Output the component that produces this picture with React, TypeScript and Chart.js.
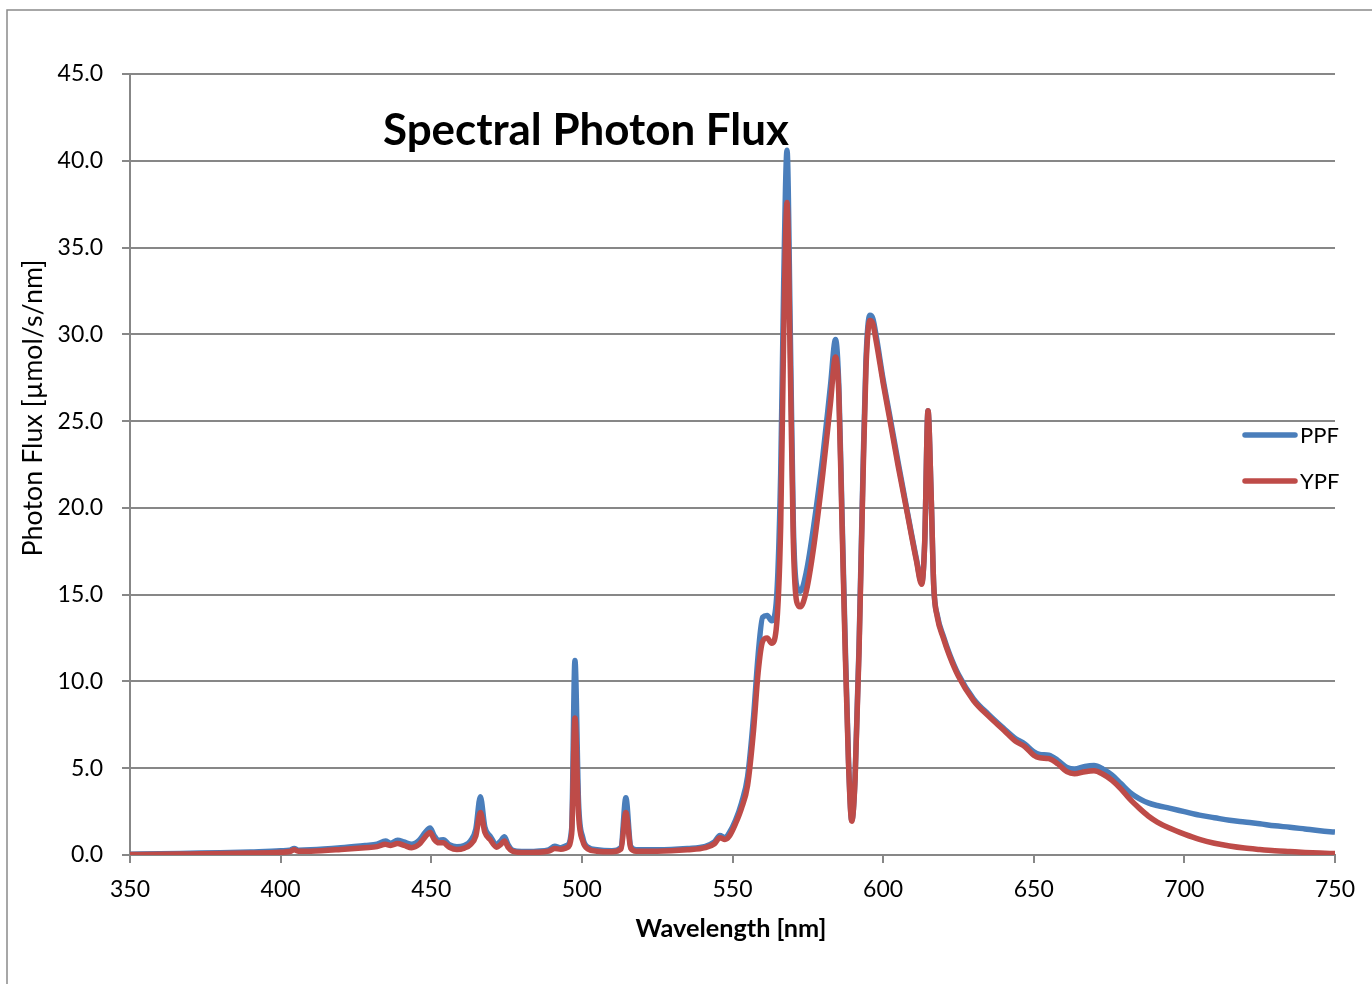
import { useEffect, useRef } from "react";
import { Chart, registerables } from "chart.js";

Chart.register(...registerables);

// Wavelength [nm]
const wavelengths = [
  350, 360, 370, 380, 390, 400, 403, 404.5, 406, 410, 420, 428, 432, 434.8, 436.5, 438.8, 441, 443.5, 446, 448,
  449.6, 451, 452.5, 454, 456, 458.5, 461, 463, 464.8, 466.3, 467.8, 469.5, 471.7, 473, 474.3, 475.5, 477, 480, 485, 489,
  491, 493, 495, 496.6, 497.7, 498.9, 500.3, 502, 505, 510, 513, 514.6, 516.2, 518, 525, 535, 541, 544, 545.8, 547.5,
  549, 551, 553, 555, 557, 558.5, 560, 561.5, 563, 564.5, 566, 567, 568.1, 569.2, 570.2, 571.3, 572.5, 574.5, 577, 580,
  582.5, 584.2, 585.3, 586.3, 587.3, 588.5, 589.6, 590.7, 592, 593.3, 594.3, 595.6, 596.6, 597.8, 600, 602, 605, 608, 611,
  612.8, 613.8, 614.9, 615.9, 616.8, 618, 620, 622, 625, 630, 635, 640, 644, 647, 650, 652, 655, 658, 661, 663.5,
  667, 670, 673, 676, 679, 682, 685, 688, 691, 695, 700, 705, 710, 715, 720, 725, 730, 735, 740, 745, 750,
];

// PPF [µmol/s/nm]
const ppf = [
  0.05, 0.07, 0.1, 0.13, 0.18, 0.24, 0.28, 0.38, 0.28, 0.3, 0.42, 0.55, 0.62, 0.8, 0.68, 0.85, 0.75, 0.62, 0.85, 1.3,
  1.55, 1.1, 0.85, 0.88, 0.6, 0.48, 0.55, 0.8, 1.5, 3.35, 1.6, 1.1, 0.6, 0.8, 1.05, 0.6, 0.28, 0.2, 0.22, 0.3,
  0.5, 0.42, 0.55, 1.5, 11.2, 3.0, 1.0, 0.45, 0.3, 0.25, 0.45, 3.3, 0.5, 0.3, 0.3, 0.38, 0.5, 0.75, 1.12, 1.0,
  1.3, 2.0, 3.0, 4.5, 8.0, 11.5, 13.7, 13.8, 13.5, 14.5, 22, 33, 40.6, 30, 19, 15.5, 15.2, 16.3, 19.0, 23.0,
  27.0, 29.7, 27, 20, 13, 5.5, 2.0, 4.5, 12, 22, 28.5, 31.1, 30.9, 29.8, 27.4, 25.5, 22.6, 19.8, 17.1,
  15.7, 18, 25.6, 21, 15.5, 13.8, 12.6, 11.6, 10.4, 9.0, 8.1, 7.3, 6.7, 6.4, 5.95, 5.8, 5.75, 5.45, 5.05, 4.95,
  5.1, 5.15, 4.95, 4.6, 4.1, 3.6, 3.25, 3.0, 2.85, 2.7, 2.5, 2.3, 2.15, 2.0, 1.9, 1.8, 1.68, 1.6, 1.5, 1.4, 1.32,
];

// YPF [µmol/s/nm]
const ypf = [
  0.03, 0.04, 0.06, 0.08, 0.11, 0.16, 0.2, 0.3, 0.21, 0.22, 0.32, 0.42, 0.48, 0.62, 0.55, 0.66, 0.55, 0.42, 0.62, 1.05,
  1.3, 0.9, 0.7, 0.7, 0.45, 0.32, 0.4, 0.6, 1.1, 2.45, 1.3, 0.9, 0.45, 0.6, 0.8, 0.45, 0.22, 0.15, 0.16, 0.22,
  0.38, 0.33, 0.42, 1.2, 7.9, 2.3, 0.8, 0.35, 0.22, 0.19, 0.35, 2.45, 0.4, 0.22, 0.22, 0.3, 0.42, 0.65, 1.0, 0.9,
  1.1, 1.8, 2.7, 4.0, 7.2, 10.5, 12.3, 12.5, 12.2, 13.0, 19, 30, 37.6, 28, 18, 14.6, 14.3, 15.2, 17.8, 22.0,
  26.0, 28.7, 26.5, 19.5, 12.5, 5.3, 1.95, 4.4, 11.7, 21.5, 28.0, 30.8, 30.6, 29.5, 27.2, 25.3, 22.4, 19.7, 17.0,
  15.6, 18, 25.6, 21, 15.5, 13.7, 12.5, 11.5, 10.3, 8.9, 8.0, 7.2, 6.55, 6.25, 5.75, 5.6, 5.55, 5.25, 4.8, 4.68,
  4.8, 4.85, 4.65, 4.3, 3.8, 3.2, 2.7, 2.25, 1.9, 1.55, 1.2, 0.9, 0.68, 0.52, 0.4, 0.32, 0.25, 0.2, 0.15, 0.11, 0.08,
];

const seriesNames = ["PPF", "YPF"];
const seriesColors = ["#4A7EBB", "#BE4B48"];
const xTicks = [350, 400, 450, 500, 550, 600, 650, 700, 750];
const yTicks = [0, 5, 10, 15, 20, 25, 30, 35, 40, 45];

const chartTitle = "Spectral Photon Flux";
const xTitle = "Wavelength [nm]";
const yTitle = "Photon Flux [\u00b5mol/s/nm]";

const FONT = "Lato";
const GRID = "#878787";

function fitFont(ctx: CanvasRenderingContext2D, text: string, width: number, weight: string) {
  ctx.font = `${weight} 40px ${FONT}`;
  const w = ctx.measureText(text).width;
  const size = (40 * width) / w;
  return `${weight} ${size.toFixed(2)}px ${FONT}`;
}

const overlayPlugin = {
  id: "overlay",
  beforeDraw(chart: any) {
    const ctx = chart.ctx as CanvasRenderingContext2D;
    ctx.save();
    ctx.fillStyle = "#ffffff";
    ctx.fillRect(0, 0, chart.width, chart.height);
    ctx.strokeStyle = "#8a8a8a";
    ctx.lineWidth = 1.5;
    ctx.strokeRect(7, 10, chart.width + 20, chart.height + 20);
    ctx.restore();
  },
  afterDraw(chart: any) {
    const ctx = chart.ctx as CanvasRenderingContext2D;
    ctx.save();
    ctx.fillStyle = "#000000";
    // chart title
    ctx.font = fitFont(ctx, chartTitle, 406, "bold");
    ctx.textAlign = "left";
    ctx.textBaseline = "alphabetic";
    ctx.fillText(chartTitle, 383, 145);
    // x axis title
    ctx.font = fitFont(ctx, xTitle, 191, "bold");
    ctx.textAlign = "center";
    ctx.textBaseline = "middle";
    ctx.fillText(xTitle, 731, 929);
    // y axis title
    ctx.save();
    ctx.translate(33, 408);
    ctx.rotate(-Math.PI / 2);
    ctx.font = fitFont(ctx, yTitle, 297, "normal");
    ctx.textAlign = "center";
    ctx.textBaseline = "middle";
    ctx.fillText(yTitle, 0, 0);
    ctx.restore();
    // legend
    const legendY = [435, 481];
    seriesNames.forEach((name, i) => {
      ctx.strokeStyle = seriesColors[i];
      ctx.lineWidth = 5.5;
      ctx.lineCap = "round";
      ctx.beginPath();
      ctx.moveTo(1245, legendY[i]);
      ctx.lineTo(1295, legendY[i]);
      ctx.stroke();
      ctx.fillStyle = "#000000";
      ctx.font = `normal 22px ${FONT}`;
      ctx.textAlign = "left";
      ctx.textBaseline = "middle";
      ctx.fillText(name, 1300, legendY[i] + 1);
    });
    ctx.restore();
  },
};

export default function App() {
  const canvasRef = useRef<HTMLCanvasElement | null>(null);

  useEffect(() => {
    const canvas = canvasRef.current;
    if (!canvas) return;
    const chart = new Chart(canvas, {
      type: "line",
      data: {
        datasets: [
          {
            label: seriesNames[0],
            data: wavelengths.map((x, i) => ({ x, y: ppf[i] })),
            borderColor: seriesColors[0],
            backgroundColor: seriesColors[0],
            borderWidth: 5.5,
            pointRadius: 0,
            cubicInterpolationMode: "monotone",
            order: 1,
          },
          {
            label: seriesNames[1],
            data: wavelengths.map((x, i) => ({ x, y: ypf[i] })),
            borderColor: seriesColors[1],
            backgroundColor: seriesColors[1],
            borderWidth: 5.5,
            pointRadius: 0,
            cubicInterpolationMode: "monotone",
            order: 0,
          },
        ],
      },
      options: {
        animation: false,
        responsive: false,
        devicePixelRatio: 1,
        layout: { padding: { left: 0, top: 74, right: 37, bottom: 0 } },
        plugins: {
          legend: { display: false },
          tooltip: { enabled: false },
          title: { display: false },
        },
        scales: {
          x: {
            type: "linear",
            min: 350,
            max: 750,
            afterFit: (scale: any) => {
              scale.height = 129;
            },
            afterBuildTicks: (scale: any) => {
              scale.ticks = xTicks.map((v) => ({ value: v }));
            },
            ticks: {
              color: "#000000",
              font: { family: FONT, size: 23 },
              padding: 13,
              maxRotation: 0,
              autoSkip: false,
              callback: (v: any) => String(v),
            },
            grid: {
              drawOnChartArea: false,
              drawTicks: true,
              tickLength: 8,
              color: GRID,
              lineWidth: 2,
            },
            border: { display: true, color: GRID, width: 2 },
          },
          y: {
            type: "linear",
            min: 0,
            max: 45,
            afterFit: (scale: any) => {
              scale.width = 130;
            },
            afterBuildTicks: (scale: any) => {
              scale.ticks = yTicks.map((v) => ({ value: v }));
            },
            ticks: {
              color: "#000000",
              font: { family: FONT, size: 23 },
              padding: 19,
              autoSkip: false,
              callback: (v: any) => Number(v).toFixed(1),
            },
            grid: {
              drawOnChartArea: true,
              drawTicks: true,
              tickLength: 8,
              color: GRID,
              lineWidth: 2,
            },
            border: { display: true, color: GRID, width: 2 },
          },
        },
      },
      plugins: [overlayPlugin],
    } as any);
    return () => chart.destroy();
  }, []);

  return (
    <div style={{ position: "fixed", left: 0, top: 0, width: 1372, height: 984, background: "#fff" }}>
      <canvas ref={canvasRef} width={1372} height={984} style={{ width: 1372, height: 984, display: "block" }} />
    </div>
  );
}
